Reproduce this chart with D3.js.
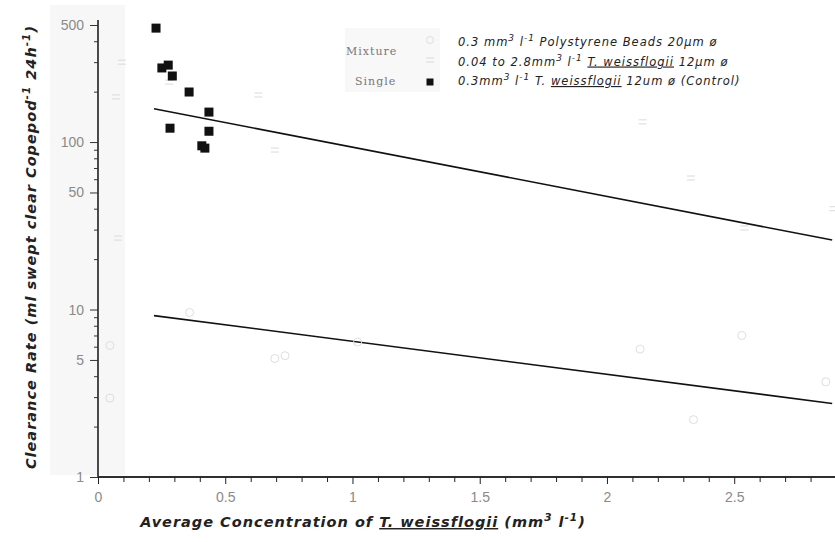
<!DOCTYPE html>
<html>
<head>
<meta charset="utf-8">
<script src="https://cdn.jsdelivr.net/npm/d3@7"></script>
<style>
  body { margin: 0; background: #fff; }
  svg { display: block; }
  .tick text { fill: #8a8a8a; font-family: "Liberation Sans", sans-serif; }
  .title { font-family: "DejaVu Sans", sans-serif; font-style: italic; font-weight: 700; fill: #222; letter-spacing: 1px; }
  .legend { font-family: "DejaVu Sans", sans-serif; font-style: italic; fill: #222; letter-spacing: 1px; }
</style>
</head>
<body>
<script>

// Axis ticks
var xMajor = [0, 0.5, 1, 1.5, 2, 2.5],
    xLabels = ["0", "0.5", "1", "1.5", "2", "2.5"],
    xMinor = [0.1, 0.2, 0.3, 0.4, 0.6, 0.7, 0.8, 0.9, 1.1, 1.2, 1.3, 1.4, 1.6, 1.7, 1.8, 1.9,
              2.1, 2.2, 2.3, 2.4, 2.6, 2.7, 2.8],
    yMajor = [1, 5, 10, 50, 100, 500],
    yMinor = [2, 3, 4, 6, 7, 8, 9, 20, 30, 40, 60, 70, 80, 90, 200, 300, 400];

// Single (control) T. weissflogii
var singleConc = [0.228, 0.251, 0.276, 0.292, 0.358, 0.436, 0.283, 0.436, 0.408, 0.420],
    singleRate = [479, 277, 288, 248, 199, 151, 121, 116, 95, 92];

// Mixture: polystyrene beads (faint open circles in the scan)
var beadConc = [0.047, 0.047, 0.36, 0.695, 0.735, 1.02, 2.13, 2.53, 2.34, 2.86],
    beadRate = [6.1, 2.96, 9.6, 5.1, 5.3, 6.4, 5.8, 7.0, 2.2, 3.7];

// Mixture: T. weissflogii (faint marks in the scan)
var algaConc = [0.094, 0.07, 0.078, 0.28, 0.63, 0.695, 2.14, 2.33, 2.89, 2.54],
    algaRate = [300, 186, 26.7, 228, 191, 89.6, 132, 61, 40, 30.7];

// Fitted regression lines (ends)
var fitConc = [0.22, 2.885],
    fitAlga = [158, 26],
    fitBeads = [9.2, 2.75];

var W = 835, H = 542;

var svg = d3.select("body").
            append("svg").
            attr("width", W).
            attr("height", H);

var x = d3.scaleLinear().domain([0, 2.9]).range([98, 836]),
    y = d3.scaleLog().domain([1, 500]).range([477, 25]);

// faint scan strip next to the y axis and behind the legend labels
svg.append("rect").attr("x", 50).attr("y", 5).attr("width", 75).attr("height", 470).attr("fill", "#f7f7f7");
svg.append("rect").attr("x", 345).attr("y", 28).attr("width", 95).attr("height", 64).attr("fill", "#f8f8f8");

// x axis
var gx = svg.append("g").attr("transform", "translate(0," + y(1) + ")");
gx.call(d3.axisBottom(x).tickValues(xMajor).tickSize(7).tickPadding(8).
        tickFormat(function(d, i) { return xLabels[i]; }));
gx.append("g").call(d3.axisBottom(x).tickValues(xMinor).tickSize(5).tickFormat(""));
gx.selectAll(".domain").attr("stroke", "#222").attr("stroke-width", 1.3).attr("d", "M" + x(0) + ",0H" + W);
gx.selectAll(".tick line").attr("stroke", "#222");
gx.selectAll(".tick text").style("font-size", "14px");

// y axis
var gy = svg.append("g").attr("transform", "translate(" + x(0) + ",0)");
gy.call(d3.axisLeft(y).tickValues(yMajor).tickSize(8).tickPadding(6).tickFormat(d3.format("d")));
gy.append("g").call(d3.axisLeft(y).tickValues(yMinor).tickSize(4).tickFormat(""));
gy.selectAll(".domain").attr("stroke", "#333").attr("stroke-width", 1.3).attr("d", "M0," + y(1) + "V20");
gy.selectAll(".tick line").attr("stroke", "#333");
gy.selectAll(".tick text").style("font-size", "14px").attr("fill", "#999");

// regression lines
var line = d3.line().x(function(d) { return x(d[0]); }).y(function(d) { return y(d[1]); });
[fitAlga, fitBeads].forEach(function(f) {
    svg.append("path").
        attr("d", line(fitConc.map(function(c, i) { return [c, f[i]]; }))).
        attr("fill", "none").
        attr("stroke", "#111").
        attr("stroke-width", 1.6);
});

// mixture points, barely visible in the scan
svg.selectAll("circle.bead").data(beadConc).enter().append("circle").
    attr("class", "bead").
    attr("cx", function(d) { return x(d); }).
    attr("cy", function(d, i) { return y(beadRate[i]); }).
    attr("r", 4).
    attr("fill", "none").
    attr("stroke", "#dedede");

svg.selectAll("path.alga").data(algaConc).enter().append("path").
    attr("class", "alga").
    attr("d", function(d, i) {
        var px = x(d), py = y(algaRate[i]);
        return "M" + (px - 4) + "," + (py - 2) + "h8M" + (px - 4) + "," + (py + 2) + "h8";
    }).
    attr("stroke", "#dadada").
    attr("stroke-width", 1);

// single control points
svg.selectAll("rect.single").data(singleConc).enter().append("rect").
    attr("class", "single").
    attr("x", function(d) { return x(d) - 4.5; }).
    attr("y", function(d, i) { return y(singleRate[i]) - 4.5; }).
    attr("width", 9).
    attr("height", 9).
    attr("fill", "#111");

// helper for text with superscripts: parts = [[text, sup?, underline?], ...]
function richText(sel, parts, supSize) {
    parts.forEach(function(p) {
        var t = sel.append("tspan").text(p[0]);
        if (p[1]) t.attr("baseline-shift", "super").style("font-size", supSize);
        if (p[2]) t.style("text-decoration", "underline");
    });
}

// axis titles
var xt = svg.append("text").attr("class", "title").
            attr("x", 363).attr("y", 527).attr("text-anchor", "middle").style("font-size", "14.5px");
richText(xt, [["Average Concentration of "], ["T. weissflogii", false, true], [" (mm"],
              ["3", true], [" l"], ["-1", true], [")"]], "10.5px");

var yt = svg.append("text").attr("class", "title").
            attr("transform", "translate(36,247) rotate(-90)").
            attr("text-anchor", "middle").style("font-size", "14.5px");
richText(yt, [["Clearance Rate (ml swept clear Copepod"], ["-1", true], [" 24h"], ["-1", true], [")"]], "10.5px");

// legend
var lg = svg.append("g");
lg.append("text").attr("x", 346).attr("y", 55).text("Mixture").
    style("font-family", "DejaVu Serif, serif").style("font-size", "11px").
    style("letter-spacing", "1px").attr("fill", "#777");
lg.append("text").attr("x", 355).attr("y", 85).text("Single").
    style("font-family", "DejaVu Serif, serif").style("font-size", "11px").
    style("letter-spacing", "1px").attr("fill", "#777");
lg.append("circle").attr("cx", 430).attr("cy", 40).attr("r", 3.5).attr("fill", "none").attr("stroke", "#dedede");
lg.append("path").attr("d", "M426,58h8M426,62h8").attr("stroke", "#dadada");
lg.append("rect").attr("x", 426.5).attr("y", 78.5).attr("width", 7).attr("height", 7).attr("fill", "#111");

var legendRows = [
    [["0.3 mm"], ["3", true], [" l"], ["-1", true], [" Polystyrene Beads 20µm ø"]],
    [["0.04 to 2.8mm"], ["3", true], [" l"], ["-1", true], [" "], ["T. weissflogii", false, true], [" 12µm ø"]],
    [["0.3mm"], ["3", true], [" l"], ["-1", true], [" T. "], ["weissflogii", false, true], [" 12um ø (Control)"]]
];
legendRows.forEach(function(r, i) {
    var t = lg.append("text").attr("class", "legend").
                attr("x", 458).attr("y", 46 + i * 19.5).style("font-size", "11.5px");
    richText(t, r, "9px");
});

</script>
</body>
</html>
